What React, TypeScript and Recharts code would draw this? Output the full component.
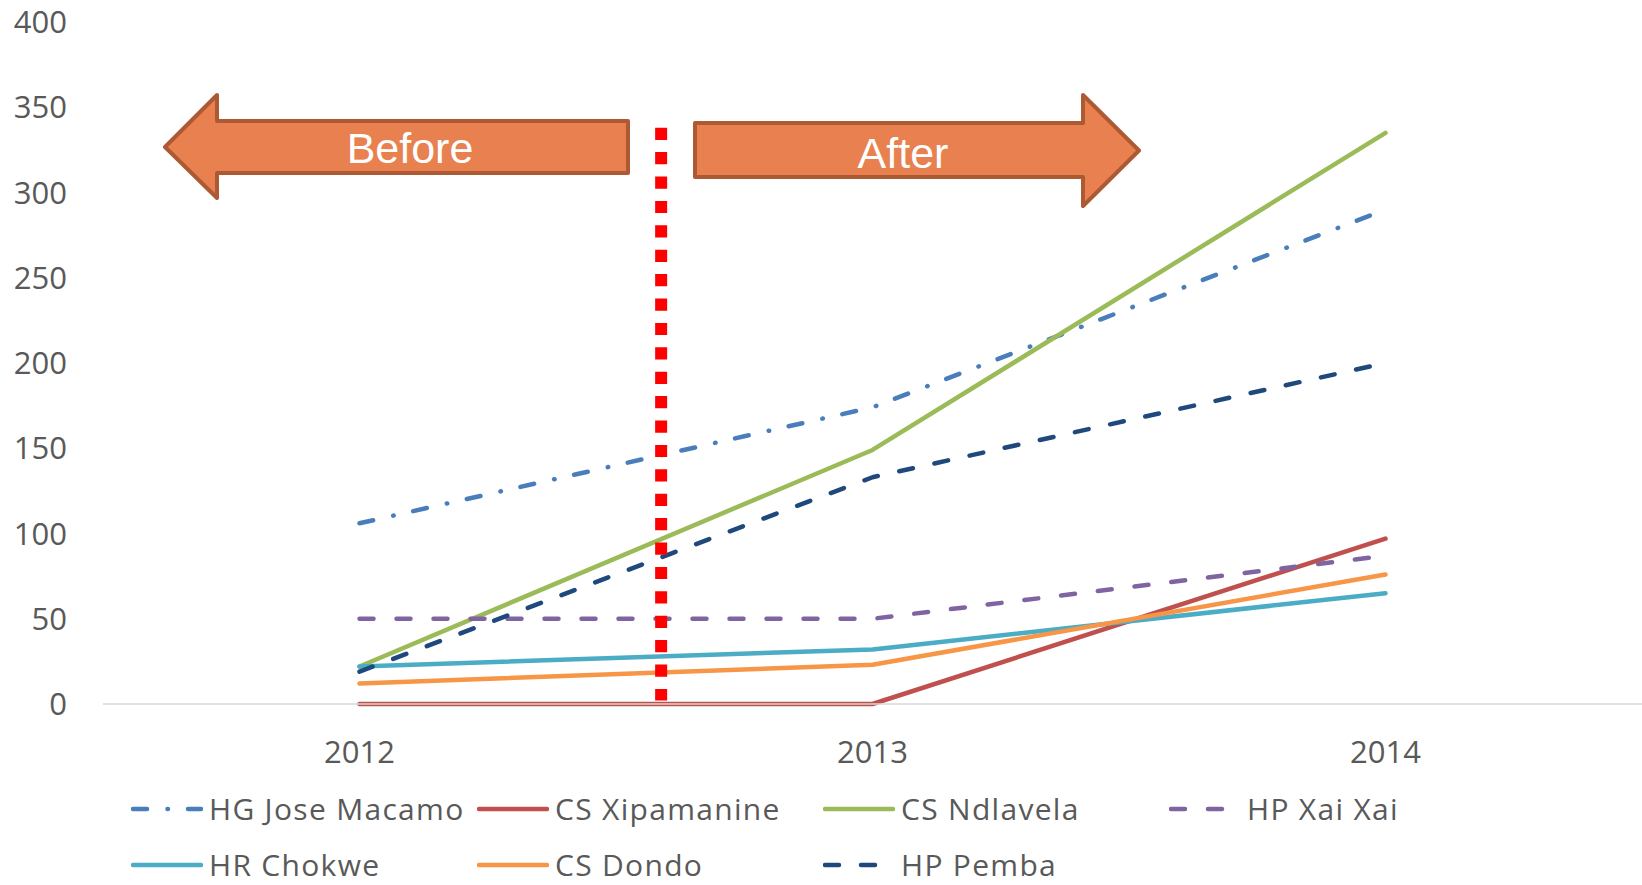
import React from 'react';
import { LineChart, Line, XAxis, YAxis, ReferenceLine } from 'recharts';

const years = ['2012', '2013', '2014'];
const hgJoseMacamo = [106, 174, 290];
const csXipamanine = [0, 0, 97];
const csNdlavela = [22, 149, 335];
const hpXaiXai = [50, 50, 87];
const hrChokwe = [22, 32, 65];
const csDondo = [12, 23, 76];
const hpPemba = [19, 133, 200];
const yTicks = [0, 50, 100, 150, 200, 250, 300, 350, 400];

// position of the intervention marker, between 2012 and 2013
const cutoff = 0.588;

const series = [
    { key: 'hg', name: 'HG Jose Macamo', values: hgJoseMacamo, color: '#4A7EBB', dash: '14 20.5 0.5 20' },
    { key: 'xip', name: 'CS Xipamanine', values: csXipamanine, color: '#C0504D', dash: undefined },
    { key: 'ndl', name: 'CS Ndlavela', values: csNdlavela, color: '#9BBB59', dash: undefined },
    { key: 'xai', name: 'HP Xai Xai', values: hpXaiXai, color: '#8064A2', dash: '14 23' },
    { key: 'cho', name: 'HR Chokwe', values: hrChokwe, color: '#4BACC6', dash: undefined },
    { key: 'don', name: 'CS Dondo', values: csDondo, color: '#F79646', dash: undefined },
    { key: 'pem', name: 'HP Pemba', values: hpPemba, color: '#1F497D', dash: '14 22' },
];

const data = years.map((year, i) => {
    const row: Record<string, number | string> = { x: i, year };
    series.forEach((s) => {
        row[s.key] = s.values[i];
    });
    return row;
});

const FONT = '"Open Sans", "Noto Sans", sans-serif';
const tickStyle = { fontSize: 31, fill: '#595959', fontFamily: FONT };

// legend slots: 4 columns, 2 rows
const legendCols = [131, 477, 823, 1169];
const legendRows = [809, 865];

function Legend7() {
    return (
        <>
            {series.map((s, i) => {
                const left = legendCols[i % 4];
                const top = legendRows[Math.floor(i / 4)];
                return (
                    <div
                        key={s.key}
                        style={{ position: 'absolute', left, top: top - 15, height: 30, display: 'flex', alignItems: 'center' }}
                    >
                        <svg width={72} height={12} style={{ display: 'block' }}>
                            <line
                                x1={2}
                                y1={6}
                                x2={70}
                                y2={6}
                                stroke={s.color}
                                strokeWidth={4.5}
                                strokeLinecap="round"
                                strokeDasharray={s.dash}
                            />
                        </svg>
                        <span
                            style={{
                                marginLeft: 6,
                                fontSize: 30,
                                letterSpacing: 1.3,
                                color: '#595959',
                                fontFamily: FONT,
                                whiteSpace: 'nowrap',
                                lineHeight: '30px',
                            }}
                        >
                            {s.name}
                        </span>
                    </div>
                );
            })}
        </>
    );
}

function Arrows() {
    const fill = '#E8814F';
    const stroke = '#AD5A34';
    return (
        <svg width={1642} height={885} style={{ position: 'absolute', left: 0, top: 0, pointerEvents: 'none' }}>
            <polygon
                points="165,147 217,95 217,121 628,121 628,173 217,173 217,198"
                fill={fill}
                stroke={stroke}
                strokeWidth={4}
                strokeLinejoin="round"
            />
            <text x={410} y={163} textAnchor="middle" fill="#fff" fontSize={43} fontFamily='"Liberation Sans", Arial, sans-serif'>
                Before
            </text>
            <polygon
                points="695,123 1083,123 1083,95 1139,150.5 1083,206 1083,177 695,177"
                fill={fill}
                stroke={stroke}
                strokeWidth={4}
                strokeLinejoin="round"
            />
            <text x={903} y={168} textAnchor="middle" fill="#fff" fontSize={43} fontFamily='"Liberation Sans", Arial, sans-serif'>
                After
            </text>
        </svg>
    );
}

export default function App() {
    return (
        <div style={{ position: 'absolute', left: 0, top: 0, width: 1642, height: 885, background: '#fff', overflow: 'hidden' }}>
            <LineChart width={1642} height={885} data={data} margin={{ top: 22, right: 0, left: 0, bottom: 121 }}>
                <XAxis
                    dataKey="x"
                    type="number"
                    domain={[-0.5, 2.5]}
                    ticks={[0, 1, 2]}
                    tickFormatter={(v: number) => years[v] ?? ''}
                    tick={tickStyle}
                    tickLine={false}
                    tickSize={0}
                    tickMargin={37}
                    axisLine={{ stroke: '#D9D9D9', strokeWidth: 1.5 }}
                    height={60}
                />
                <YAxis
                    domain={[0, 400]}
                    ticks={yTicks}
                    tick={tickStyle}
                    tickLine={false}
                    tickSize={0}
                    tickMargin={36}
                    axisLine={false}
                    width={103}
                />
                {series.map((s) => (
                    <Line
                        key={s.key}
                        dataKey={s.key}
                        name={s.name}
                        stroke={s.color}
                        strokeWidth={4.5}
                        strokeDasharray={s.dash}
                        strokeLinecap="round"
                        strokeLinejoin="round"
                        dot={false}
                        activeDot={false}
                        isAnimationActive={false}
                    />
                ))}
                <ReferenceLine
                    segment={[
                        { x: cutoff, y: 338 },
                        { x: cutoff, y: 2 },
                    ]}
                    stroke="#FF0000"
                    strokeWidth={12}
                    strokeDasharray="12.2 12.2"
                />
            </LineChart>
            <Arrows />
            <Legend7 />
        </div>
    );
}
